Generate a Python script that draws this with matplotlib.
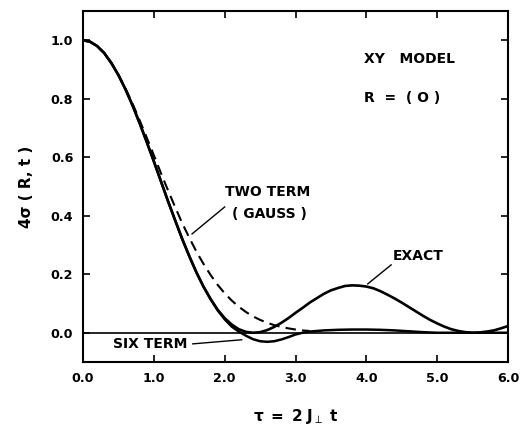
import matplotlib
matplotlib.use("Agg")
import matplotlib.pyplot as plt

plt.rcParams['font.family'] = ['DejaVu Sans']
plt.rcParams['mathtext.fontset'] = 'dejavusans'

# ---- data ----
tau_exact = [0.0, 0.1, 0.2, 0.3, 0.4, 0.5, 0.6, 0.7, 0.8, 0.9,
             1.0, 1.1, 1.2, 1.3, 1.4, 1.5, 1.6, 1.7, 1.8, 1.9,
             2.0, 2.1, 2.2, 2.3, 2.4, 2.5, 2.6, 2.7, 2.8, 2.9,
             3.0, 3.1, 3.2, 3.3, 3.4, 3.5, 3.6, 3.7, 3.8, 3.9,
             4.0, 4.1, 4.2, 4.3, 4.4, 4.5, 4.6, 4.7, 4.8, 4.9,
             5.0, 5.1, 5.2, 5.3, 5.4, 5.5, 5.6, 5.7, 5.8, 5.9, 6.0]
exact = [1.000, 0.995, 0.980, 0.956, 0.922, 0.881, 0.832, 0.777, 0.716, 0.652,
         0.586, 0.518, 0.450, 0.385, 0.321, 0.262, 0.207, 0.158, 0.116, 0.079,
         0.050, 0.028, 0.012, 0.003, 0.000, 0.002, 0.009, 0.020, 0.034, 0.050,
         0.068, 0.085, 0.103, 0.118, 0.133, 0.145, 0.153, 0.160, 0.162, 0.161,
         0.158, 0.152, 0.142, 0.130, 0.117, 0.103, 0.088, 0.073, 0.058, 0.044,
         0.032, 0.021, 0.012, 0.006, 0.002, 0.000, 0.001, 0.004, 0.008, 0.015, 0.023]

tau_gauss = [0.0, 0.1, 0.2, 0.3, 0.4, 0.5, 0.6, 0.7, 0.8, 0.9,
             1.0, 1.1, 1.2, 1.3, 1.4, 1.5, 1.6, 1.7, 1.8, 1.9,
             2.0, 2.1, 2.2, 2.3, 2.4, 2.5, 2.6, 2.7, 2.8, 2.9,
             3.0, 3.1, 3.2]
gauss = [1.000, 0.995, 0.980, 0.956, 0.923, 0.882, 0.835, 0.783, 0.726, 0.667,
         0.607, 0.546, 0.487, 0.430, 0.375, 0.325, 0.278, 0.236, 0.198, 0.164,
         0.135, 0.110, 0.089, 0.071, 0.056, 0.044, 0.034, 0.026, 0.020, 0.015,
         0.011, 0.008, 0.006]

tau_six = [0.0, 0.1, 0.2, 0.3, 0.4, 0.5, 0.6, 0.7, 0.8, 0.9,
           1.0, 1.1, 1.2, 1.3, 1.4, 1.5, 1.6, 1.7, 1.8, 1.9,
           2.0, 2.1, 2.2, 2.3, 2.4, 2.5, 2.6, 2.7, 2.8, 2.9,
           3.0, 3.1, 3.2, 3.4, 3.6, 3.8, 4.0, 4.2, 4.4, 4.6,
           4.8, 5.0, 5.5, 6.0]
six = [1.000, 0.995, 0.980, 0.956, 0.922, 0.881, 0.832, 0.777, 0.716, 0.652,
       0.586, 0.518, 0.450, 0.385, 0.321, 0.262, 0.207, 0.158, 0.115, 0.077,
       0.046, 0.021, 0.004, -0.010, -0.022, -0.029, -0.031, -0.029, -0.023, -0.015,
       -0.006, 0.000, 0.004, 0.008, 0.010, 0.011, 0.011, 0.010, 0.008, 0.005,
       0.002, 0.000, 0.000, 0.000]

x_ticks = [0, 1, 2, 3, 4, 5, 6]
x_tick_labels = ["0.0", "1.0", "2.0", "3.0", "4.0", "5.0", "6.0"]
y_ticks = [0.0, 0.2, 0.4, 0.6, 0.8, 1.0]
y_tick_labels = ["0.0", "0.2", "0.4", "0.6", "0.8", "1.0"]

fig = plt.figure(figsize=(5.22, 4.26), dpi=100)
ax = fig.add_axes([83/522, 64/426, 425/522, 351/426])

ax.axhline(0.0, color='black', lw=1.2, zorder=1)
ax.plot(tau_gauss, gauss, color='black', lw=1.5, ls=(0, (5, 3)), zorder=2)
ax.plot(tau_six, six, color='black', lw=1.8, zorder=3)
ax.plot(tau_exact, exact, color='black', lw=1.9, zorder=3)

# leader lines
ax.plot([1.54, 2.00], [0.338, 0.430], color='black', lw=1.0)
ax.plot([4.02, 4.35], [0.167, 0.232], color='black', lw=1.0)
ax.plot([1.55, 2.24], [-0.038, -0.024], color='black', lw=1.0)

tk = dict(fontsize=10, fontweight='bold', color='black')
ax.text(2.00, 0.481, "TWO TERM", va='center', ha='left', **tk)
ax.text(2.10, 0.406, "( GAUSS )", va='center', ha='left', **tk)
ax.text(4.38, 0.263, "EXACT", va='center', ha='left', **tk)
ax.text(0.42, -0.038, "SIX TERM", va='center', ha='left', **tk)
ax.text(3.97, 0.935, "XY   MODEL", va='center', ha='left', **tk)
ax.text(3.97, 0.802, "R  =  ( O )", va='center', ha='left', **tk)

ax.set_xlim(0, 6)
ax.set_ylim(-0.1, 1.1)
ax.set_xticks(x_ticks)
ax.set_xticklabels(x_tick_labels)
ax.set_yticks(y_ticks)
ax.set_yticklabels(y_tick_labels)
ax.tick_params(direction='in', length=5, width=1.2, labelsize=9.2,
               top=True, right=True, pad=7)
for lab in ax.get_xticklabels() + ax.get_yticklabels():
    lab.set_fontweight('bold')
for s in ax.spines.values():
    s.set_linewidth(1.5)

ax.set_xlabel(r"$\mathbf{\tau\ =\ 2\ J}_{\perp}\ \mathbf{t}$", fontsize=11,
              labelpad=16)
ax.set_ylabel("4σ ( R, t )", fontsize=11, fontweight='bold', labelpad=12)

fig.savefig("out.png", dpi=100)
